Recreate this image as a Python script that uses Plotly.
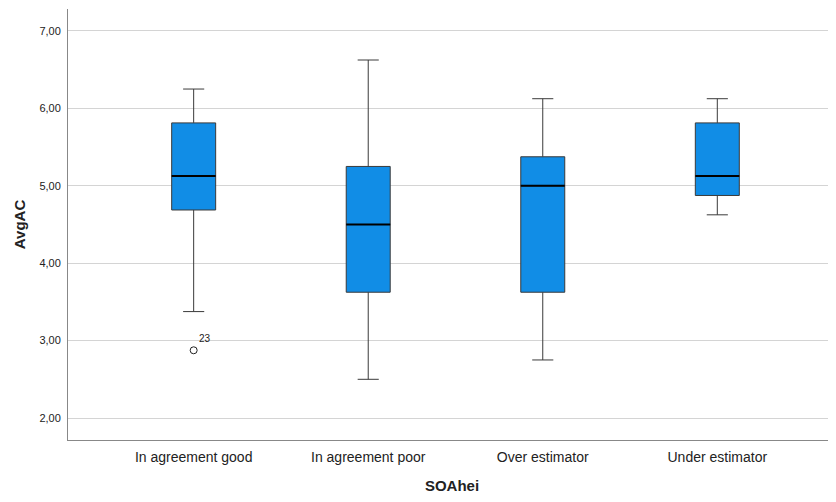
import plotly.graph_objects as go

categories = ["In agreement good", "In agreement poor", "Over estimator", "Under estimator"]
lower_whisker = [3.375, 2.5, 2.75, 4.625]
q1 = [4.6875, 3.625, 3.625, 4.875]
median = [5.125, 4.5, 5.0, 5.125]
q3 = [5.8125, 5.25, 5.375, 5.8125]
upper_whisker = [6.25, 6.625, 6.125, 6.125]
outlier_cat = [0]
outlier_val = [2.875]
outlier_lbl = ["23"]
y_ticks = [2, 3, 4, 5, 6, 7]

BOX_W = 0.252
FILL = "#118de6"
EDGE = "#3a3a3a"

fig = go.Figure()
xs = list(range(len(categories)))
for i in xs:
    fig.add_trace(go.Box(
        x=[i], q1=[q1[i]], median=[median[i]], q3=[q3[i]],
        lowerfence=[lower_whisker[i]], upperfence=[upper_whisker[i]],
        width=BOX_W, whiskerwidth=0.48, fillcolor=FILL,
        line=dict(color=EDGE, width=1), boxpoints=False, showlegend=False,
        hoverinfo="skip"))
    fig.add_trace(go.Scatter(
        x=[i - BOX_W / 2, i + BOX_W / 2], y=[median[i], median[i]],
        mode="lines", line=dict(color="black", width=2), showlegend=False,
        hoverinfo="skip"))

fig.add_trace(go.Scatter(
    x=outlier_cat, y=outlier_val, mode="markers+text",
    marker=dict(symbol="circle-open", size=7, color="#222", line=dict(width=1)),
    text=outlier_lbl, textposition="top right",
    textfont=dict(family="Liberation Sans, Arial", size=10, color="#222"),
    showlegend=False, hoverinfo="skip"))

fig.update_layout(
    width=828, height=494,
    margin=dict(l=60, r=0, t=1, b=62, autoexpand=False),
    paper_bgcolor="white", plot_bgcolor="white",
    separators=",.",
    font=dict(family="Liberation Sans, Arial", color="#222"),
    xaxis=dict(
        range=[-0.72, 3.68], tickvals=xs, ticktext=categories,
        tickfont=dict(size=14, color="#222"), showgrid=False, zeroline=False,
        showline=True, linecolor="#888", linewidth=1, ticks="", ticklabelstandoff=4,
        title=dict(text="<b>SOAhei</b>", font=dict(size=15, color="#222"), standoff=16),
    ),
    yaxis=dict(
        range=[1.716, 7.284], tickvals=y_ticks, tickformat=".2f",
        tickfont=dict(size=11, color="#222"), showgrid=True, gridcolor="#d4d4d4",
        gridwidth=1, zeroline=False, showline=True, linecolor="#888", linewidth=1,
        ticks="", ticklabelstandoff=4,
        title=dict(text="<b>AvgAC</b>", font=dict(size=15, color="#222"), standoff=10),
    ),
)

fig.write_html("out.html")
